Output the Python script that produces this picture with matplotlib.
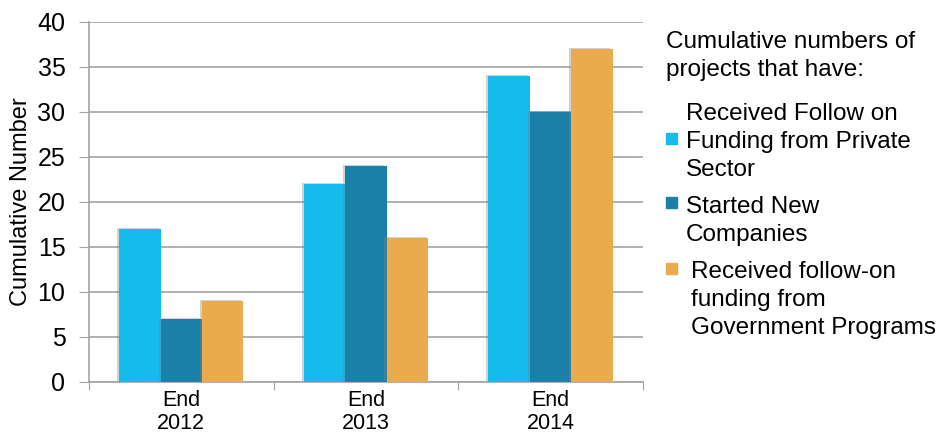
import matplotlib

matplotlib.use("Agg")
import matplotlib.patheffects as pe
import matplotlib.pyplot as plt
import numpy as np
from matplotlib.patches import Rectangle

categories = ["End\n2012", "End\n2013", "End\n2014"]
private_funding = [17, 22, 34]
new_companies = [7, 24, 30]
government_funding = [9, 16, 37]
series_labels = [
    "Received Follow on\nFunding from Private\nSector",
    "Started New\nCompanies",
    "Received follow-on\nfunding from\nGovernment Programs",
]
legend_title = "Cumulative numbers of\nprojects that have:"
y_ticks = [0, 5, 10, 15, 20, 25, 30, 35, 40]

colors = ["#15bbeb", "#1a80a7", "#eaab4e"]
grid_color = "#a3a3a3"

plt.rcParams["font.family"] = ["Liberation Sans", "DejaVu Sans"]

fig = plt.figure(figsize=(9.45, 4.37), dpi=100)
ax = fig.add_axes([0.0942, 0.1259, 0.586, 0.8238])

x = np.arange(len(categories))
width = 0.224
shadow = [pe.SimplePatchShadow(offset=(-1.5, 0.5), alpha=0.35,
                               shadow_rgbFace="#808080"), pe.Normal()]
for i, values in enumerate([private_funding, new_companies, government_funding]):
    ax.bar(x + (i - 1) * width, values, width, color=colors[i],
           zorder=3, path_effects=shadow)

ax.set_xlim(-0.5, len(categories) - 0.5)
ax.set_ylim(0, 40)
ax.set_yticks(y_ticks)
ax.set_yticklabels([str(t) for t in y_ticks], fontsize=18)
ax.tick_params(axis="y", length=7, color=grid_color, pad=10)

# category labels between boundary ticks
ax.set_xticks(np.arange(len(categories) + 1) - 0.5)
ax.set_xticklabels([])
ax.tick_params(axis="x", length=6, color=grid_color)
ax.set_xticks(x, minor=True)
ax.set_xticklabels(categories, minor=True, fontsize=15.5, linespacing=1.1)
ax.tick_params(axis="x", which="minor", length=0, pad=6)

ax.grid(axis="y", color=grid_color, linewidth=1.2, zorder=0)
ax.set_axisbelow(True)
for side in ["top", "right"]:
    ax.spines[side].set_visible(False)
for side in ["left", "bottom"]:
    ax.spines[side].set_color(grid_color)
    ax.spines[side].set_linewidth(1.2)

ax.set_ylabel("Cumulative Number", fontsize=17, labelpad=4)

# legend drawn by hand to mimic the original layout
W, H = 945, 437


def fx(px):
    return px / W


def fy(py):
    return 1 - py / H


fig.text(fx(666), fy(31), legend_title, fontsize=17.5, va="top", ha="left",
         linespacing=1.35)

entries = [
    # (text left, text top, marker top)
    (686, 103, 133),
    (686, 196, 197),
    (691, 261, 263),
]
for (tx, ty, my), label, color in zip(entries, series_labels, colors):
    fig.text(fx(tx), fy(ty), label, fontsize=17.5, va="top", ha="left",
             linespacing=1.35)
    fig.patches.append(Rectangle((fx(666), fy(my + 11)), fx(11), 11 / H,
                                 transform=fig.transFigure, color=color,
                                 figure=fig))

fig.savefig("out.png", dpi=100)
